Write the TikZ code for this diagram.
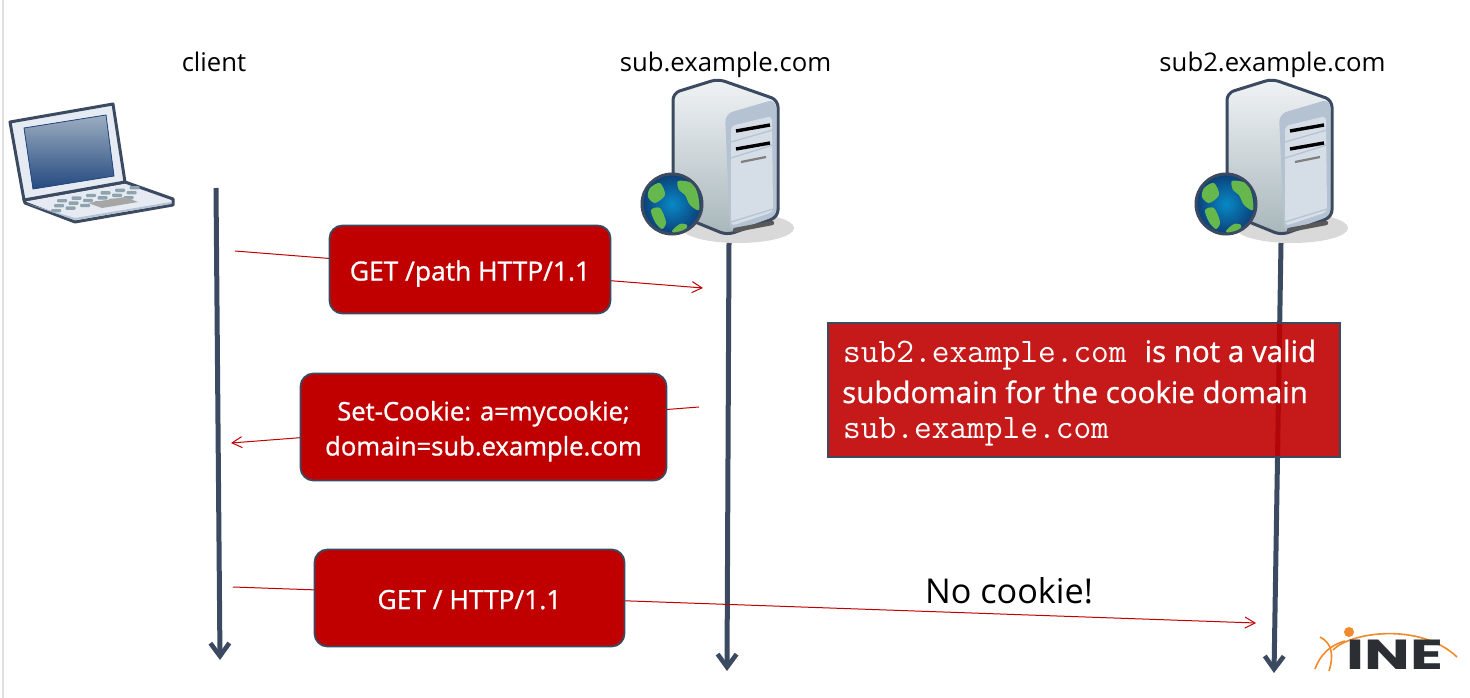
\documentclass[tikz,border=0pt]{standalone}
\usepackage{fontspec}
\setmainfont{Open Sans}
\newfontfamily\heavyfont[FakeBold=1]{Open Sans}
\newfontfamily\logofont{Poppins}
\usetikzlibrary{arrows.meta}

\definecolor{boxred}{HTML}{C00000}
\definecolor{slate}{HTML}{3B4A60}
\definecolor{inkdark}{HTML}{2B2F33}
\definecolor{logoorange}{HTML}{F08A2C}
\definecolor{keygray}{HTML}{8FA3AD}
\definecolor{screentop}{HTML}{9DADC0}
\definecolor{screenlow}{HTML}{234A80}
\definecolor{lidgray}{HTML}{E6EBF3}
\definecolor{bodytop}{HTML}{F0F3F6}
\definecolor{bodylow}{HTML}{A8B6BA}
\definecolor{paneldark}{HTML}{B4C2D2}
\definecolor{panellight}{HTML}{D5DDE7}
\definecolor{globeblue}{HTML}{0A6CB8}
\definecolor{globedark}{HTML}{0B3F78}
\definecolor{landgreen}{HTML}{66B84C}

\tikzset{
  timeline/.style={draw=slate,line width=5pt,-{Straight Barb[length=13pt,width=19pt,line width=4.6pt]}},
  message/.style={draw=boxred,line width=1pt,-{Straight Barb[length=10pt,width=11pt,line width=1pt]}},
  msgbox/.style={draw=slate,line width=1.8pt,fill=boxred,text=white,rounded corners=13pt,
    inner sep=0pt,align=center,font=\heavyfont\fontsize{26.4}{35}\selectfont},
  hostlabel/.style={anchor=base,font=\fontsize{25.7}{30}\selectfont},
  calloutline/.style={text=white,anchor=base west,inner sep=0pt,font=\heavyfont\fontsize{29.5}{35}\selectfont},
  landmass/.style={fill=landgreen},
  pics/servericon/.style={code={
    \fill[black!15] (738,228) ellipse [x radius=56,y radius=15];
    \draw[slate,line width=3pt,rounded corners=7pt,top color=bodytop,bottom color=bodylow]
      (673,93) -- (673,213) -- (727,235) -- (778,217) -- (778,100) -- (718,79) -- cycle;
    \fill[rounded corners=8pt,paneldark]
      (725,114) -- (776,99) -- (776,216) -- (730,233) -- cycle;
    \fill[rounded corners=4pt,panellight] (731,126) -- (772,116) -- (773,212) -- (731,226) -- cycle;
    \draw[paneldark,line width=1.2pt] (731,142) -- (773,130) (731,158) -- (773,145) (731,222) -- (773,209);
    \draw[black,line width=3.4pt] (736,131) -- (770,125) (736,149) -- (770,143);
    \draw[gray,line width=2.2pt] (741,162) -- (766,157);
    \draw[gray!70!black,line width=4.4pt,line cap=round] (735,230) -- (772,223);
    \fill[inner color=globeblue!80!cyan,outer color=globedark] (672,204) circle (30);
    \fill[landmass] plot[smooth cycle] coordinates {(650,188) (660,183) (665,195) (655,203) (648,197)};
    \fill[landmass] plot[smooth cycle] coordinates {(678,181) (692,183) (698,195) (699,210) (690,205) (685,195) (679,190)};
    \fill[landmass] plot[smooth cycle] coordinates {(651,210) (660,208) (666,222) (662,229) (655,222)};
    \fill[landmass] plot[smooth cycle] coordinates {(672,231) (680,224) (687,225) (685,231) (677,234)};
    \draw[slate,line width=3pt] (672,204) circle (30);
  }}
}

\begin{document}
\begin{tikzpicture}[x=1pt,y=-1pt]
  \useasboundingbox (0,0) rectangle (1470,698);
  \fill[white] (0,0) rectangle (1470,698);
  \draw[black!12,line width=2pt] (3,0) -- (3,698);

  % laptop
  \fill[lidgray,draw=slate,line width=3pt,line join=round]
    (24,200) -- (125,182) -- (173,199) -- (173,205) -- (75,222) -- (25,203) -- cycle;
  \fill[paneldark] (28,204) -- (75,218) -- (171,202) -- (171,204) -- (75,220) -- cycle;
  \foreach \row in {0,1,2} {
    \foreach \col in {0,...,5} {
      \fill[keygray,rounded corners=1pt]
        ({45+\col*14.5+\row*-3+12},{199-\col*2.6+\row*5}) rectangle ++(10,3.4);
    }
  }
  \fill[gray!70!white] (88,203) -- (125,197) -- (138,202) -- (102,208) -- cycle;
  \fill[lidgray,draw=slate,line width=3pt,line join=round]
    (10,122) -- (113,104) -- (125,182) -- (24,200) -- cycle;
  \fill[top color=screentop,bottom color=screenlow,draw=screenlow,line width=.8pt]
    (24,128) -- (106,115) -- (114,176) -- (33,189) -- cycle;

  % servers
  \pic at (0,0) {servericon};
  \pic at (554,0) {servericon};

  % host labels
  \node[hostlabel] (clientlabel) at (214,72) {client};
  \node[hostlabel] (sublabel) at (725.5,72) {sub.example.com};
  \node[hostlabel] (subtwolabel) at (1272.5,72) {sub2.example.com};

  % time lines
  \coordinate (clienttop) at (216,188);
  \coordinate (clientend) at (220,660);
  \coordinate (subtop) at (729,243);
  \coordinate (subend) at (727,671);
  \coordinate (subtwotop) at (1281,243);
  \coordinate (subtwoend) at (1274,673);
  \draw[timeline] (clienttop) -- (clientend);
  \draw[timeline] (subtop) -- (subend);
  \draw[timeline] (subtwotop) -- (subtwoend);

  % messages
  \coordinate (getfrom) at (235,251);
  \coordinate (getto) at (703,288);
  \coordinate (setfrom) at (699,407);
  \coordinate (setto) at (231,443);
  \coordinate (rootfrom) at (233,587);
  \coordinate (rootto) at (1256,623);
  \draw[message] (getfrom) -- (getto);
  \draw[message] (setfrom) -- (setto);
  \draw[message] (rootfrom) -- (rootto);

  \node[msgbox,text height=22pt,text depth=0pt,minimum width=281pt,minimum height=88pt] (getbox) at (470,269.5) {GET /path HTTP/1.1};
  \node[msgbox,font=\heavyfont\fontsize{25.6}{35}\selectfont,minimum width=366pt,minimum height=107pt] (setbox) at (483.5,427) {\rule{0pt}{28pt}Set-Cookie: a=mycookie;\\domain=sub.example.com};
  \node[msgbox,text height=22pt,text depth=0pt,minimum width=310pt,minimum height=97pt] (rootbox) at (469.5,598) {GET / HTTP/1.1};

  \node[font=\fontsize{34.2}{40}\selectfont] (nocookie) at (1009,591) {No cookie!};

  % callout
  \node[draw=slate,line width=2pt,fill=boxred,fill opacity=.9,
    minimum width=512pt,minimum height=134pt,inner sep=0pt] (callout) at (1083.5,389.5) {};
  \node[calloutline] (calloutone) at (843,362)
    {{\ttfamily\fontsize{34.4}{35}\selectfont sub2.example.com}\hspace{18pt}is not a valid};
  \node[calloutline] (callouttwo) at (842,403)
    {subdomain for the cookie domain};
  \node[calloutline,font=\ttfamily\fontsize{34.4}{35}\selectfont] (calloutthree) at (843,438)
    {sub.example.com};

  % logo
  \draw[logoorange,line width=1.6pt] (1333,650) .. controls (1350,632) and (1420,622) .. (1457,657);
  \draw[logoorange,line width=1.6pt] (1320,637) .. controls (1332,643) and (1334,655) .. (1329,671);
  \draw[logoorange,line width=1.6pt] (1315,669) .. controls (1320,655) and (1330,645) .. (1345,641);
  \fill[logoorange] (1349,632) circle (5);
  \node[inkdark,inner sep=0pt,xscale=1.45,font=\logofont\bfseries\fontsize{42}{42}\selectfont] (logo) at (1395,655) {INE};
\end{tikzpicture}
\end{document}
